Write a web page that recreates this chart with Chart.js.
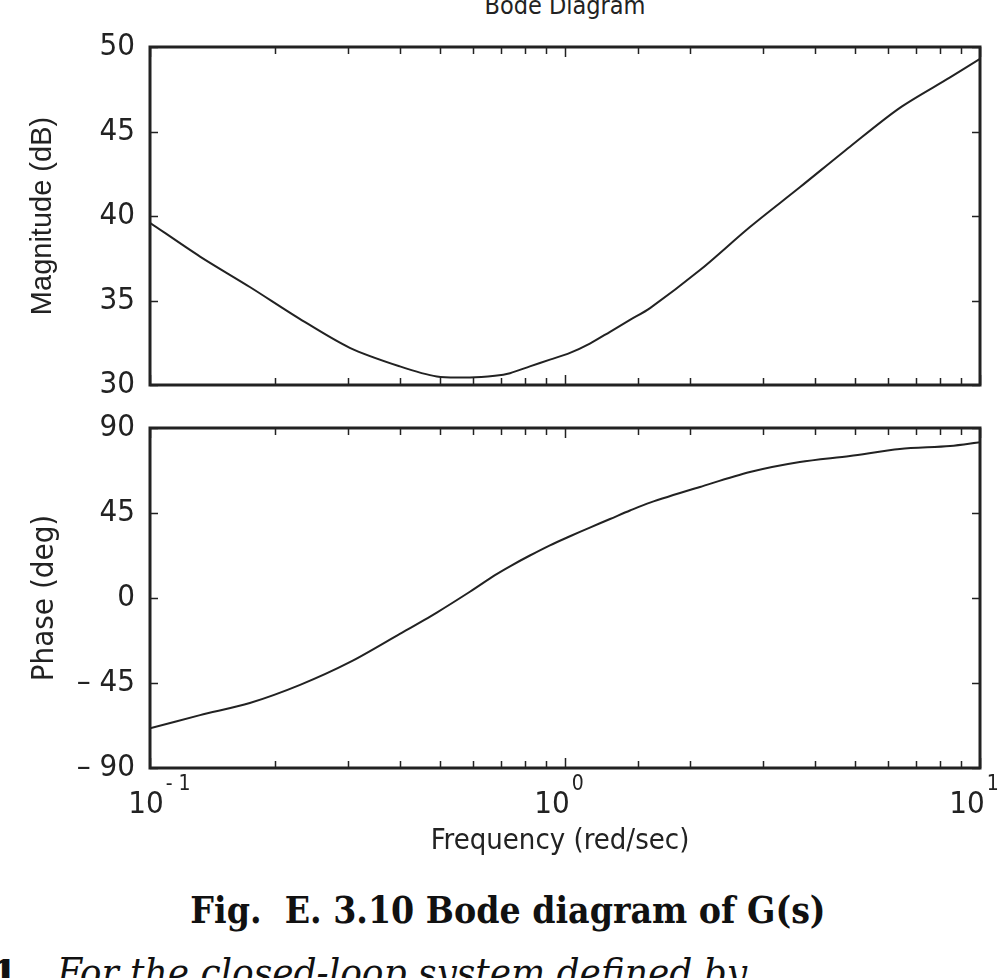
<!DOCTYPE html>
<html>
<head>
<meta charset="utf-8">
<script src="https://cdn.jsdelivr.net/npm/chart.js@4.4.1/dist/chart.umd.min.js"></script>
<style>
  html, body { margin: 0; padding: 0; background: #fff; width: 1002px; height: 978px; overflow: hidden; }
  #wrap { position: relative; width: 1002px; height: 978px; }
  canvas { position: absolute; left: 0; }
  .txt { position: absolute; white-space: nowrap; color: #222; }
</style>
</head>
<body>
<div id="wrap">
  <div class="txt" id="title" style="left:0;width:1130px;text-align:center;top:-9px;font:25px 'DejaVu Sans Condensed';">Bode Diagram</div>
  <div style="position:absolute;left:0;top:30px;width:1002px;height:370px;"><canvas id="mag"></canvas></div>
  <div style="position:absolute;left:0;top:400px;width:1002px;height:430px;"><canvas id="phase"></canvas></div>
  <div class="txt" style="left:0;width:1120px;text-align:center;top:822px;font:29px 'DejaVu Sans Condensed';">Frequency (red/sec)</div>
  <div class="txt" style="left:0;width:1016px;text-align:center;top:888px;font:bold 37px 'DejaVu Serif Condensed';color:#111;">Fig.&nbsp; E. 3.10 Bode diagram of G(s)</div>
  <div class="txt" style="left:-9px;top:950px;font:bold 40px 'DejaVu Serif';color:#111;">1</div>
  <div class="txt" style="left:57px;top:949px;font:italic 40px 'DejaVu Serif Condensed';color:#111;">For the closed-loop system defined by</div>
</div>
<script>
// frequency grid (rad/sec), log axis 0.1 .. 10
const freq  = [0.1, 0.132, 0.174, 0.23, 0.303, 0.4, 0.491, 0.59, 0.678, 0.737, 0.823, 0.92, 1.028, 1.148, 1.284, 1.434, 1.603, 2.115, 2.79, 3.68, 4.86, 6.41, 8.47, 10];
const magDb = [39.6, 37.6, 35.8, 33.9, 32.2, 31.1, 30.5, 30.45, 30.55, 30.7, 31.1, 31.5, 31.9, 32.45, 33.15, 33.85, 34.55, 36.8, 39.35, 41.7, 44.1, 46.4, 48.2, 49.3];
const phaseDeg = [-69, -62, -55.6, -46, -34, -19, -7.7, 3.3, 12.1, 16.8, 22.5, 27.9, 32.7, 37.3, 41.8, 46.3, 50.5, 58.8, 66.7, 72, 75.2, 78.9, 80.5, 82.5];

const magTicks = [30, 35, 40, 45, 50];
const phaseTicks = [-90, -45, 0, 45, 90];
const xDecades = [0.1, 1, 10];
const xDecadeExp = ["- 1", "0", "1"];

const INK = "#222";
const tickFont = { family: "DejaVu Sans Condensed", size: 31 };

// matlab-style box with inward ticks on all four sides
const boxTicks = {
  id: "boxTicks",
  afterDraw(chart) {
    const { ctx, chartArea: a, scales } = chart;
    ctx.save();
    ctx.strokeStyle = INK;
    ctx.lineWidth = 1.5;
    ctx.beginPath();
    scales.y.ticks.forEach((t) => {
      const py = Math.round(scales.y.getPixelForValue(t.value)) + 0.5;
      ctx.moveTo(a.left, py); ctx.lineTo(a.left + 8, py);
      ctx.moveTo(a.right, py); ctx.lineTo(a.right - 8, py);
    });
    scales.x.ticks.forEach((t) => {
      const px = Math.round(scales.x.getPixelForValue(t.value)) + 0.5;
      const len = xDecades.includes(t.value) ? 10 : 7;
      ctx.moveTo(px, a.top); ctx.lineTo(px, a.top + len);
      ctx.moveTo(px, a.bottom); ctx.lineTo(px, a.bottom - len);
    });
    ctx.stroke();
    ctx.lineWidth = 3;
    ctx.strokeRect(a.left, a.top, a.right - a.left, a.bottom - a.top);
    ctx.restore();
  },
};

// x labels as 10 with a raised exponent
const decadeLabels = {
  id: "decadeLabels",
  afterDraw(chart) {
    const { ctx, chartArea: a, scales } = chart;
    ctx.save();
    ctx.fillStyle = INK;
    ctx.textBaseline = "alphabetic";
    xDecades.forEach((v, i) => {
      const px = scales.x.getPixelForValue(v);
      ctx.font = "31px 'DejaVu Sans Condensed'";
      ctx.textAlign = "center";
      const cx = i === 0 ? px - 4 : px - 13;
      ctx.fillText("10", cx, a.bottom + 45);
      const w = ctx.measureText("10").width;
      ctx.font = "21px 'DejaVu Sans Condensed'";
      ctx.textAlign = "left";
      ctx.fillText(xDecadeExp[i], cx + w / 2 + 2, a.bottom + 22);
    });
    ctx.restore();
  },
};

function noPad(s) { s.paddingTop = 0; s.paddingBottom = 0; s.paddingLeft = 0; s.paddingRight = 0; }

function makePanel(canvasId, values, ticks, yTitle, titleFont, titlePad, pad, extraPlugins) {
  return new Chart(document.getElementById(canvasId), {
    type: "line",
    data: {
      datasets: [{
        data: freq.map((f, i) => ({ x: f, y: values[i] })),
        borderColor: INK,
        borderWidth: 2,
        pointRadius: 0,
        tension: 0.3,
      }],
    },
    options: {
      responsive: true,
      maintainAspectRatio: false,
      animation: false,
      events: [],
      layout: { padding: pad },
      plugins: { legend: { display: false }, tooltip: { enabled: false } },
      scales: {
        x: {
          type: "logarithmic",
          min: 0.1, max: 10,
          grid: { display: false },
          border: { display: false },
          ticks: { display: false },
          afterFit: (s) => { s.height = 0; noPad(s); },
        },
        y: {
          min: ticks[0], max: ticks[ticks.length - 1],
          afterBuildTicks: (s) => { s.ticks = ticks.map((v) => ({ value: v })); },
          grid: { display: false, drawTicks: false },
          border: { display: false },
          ticks: {
            color: INK, font: tickFont, padding: 15,
            callback: (v) => (v < 0 ? "– " + Math.abs(v) : String(v)),
          },
          title: { display: true, text: yTitle, color: INK, font: titleFont, padding: { top: titlePad, bottom: 0 } },
          afterFit: (s) => { s.width = 150; noPad(s); },
        },
      },
    },
    plugins: [boxTicks, ...extraPlugins],
  });
}

makePanel("mag", magDb, magTicks, "Magnitude (dB)",
  { family: "Liberation Sans", size: 29 }, 26,
  { top: 17, right: 22, bottom: 15, left: 0 }, []);

makePanel("phase", phaseDeg, phaseTicks, "Phase (deg)",
  { family: "DejaVu Sans Condensed", size: 31 }, 26,
  { top: 28, right: 22, bottom: 62, left: 0 }, [decadeLabels]);
</script>
</body>
</html>
